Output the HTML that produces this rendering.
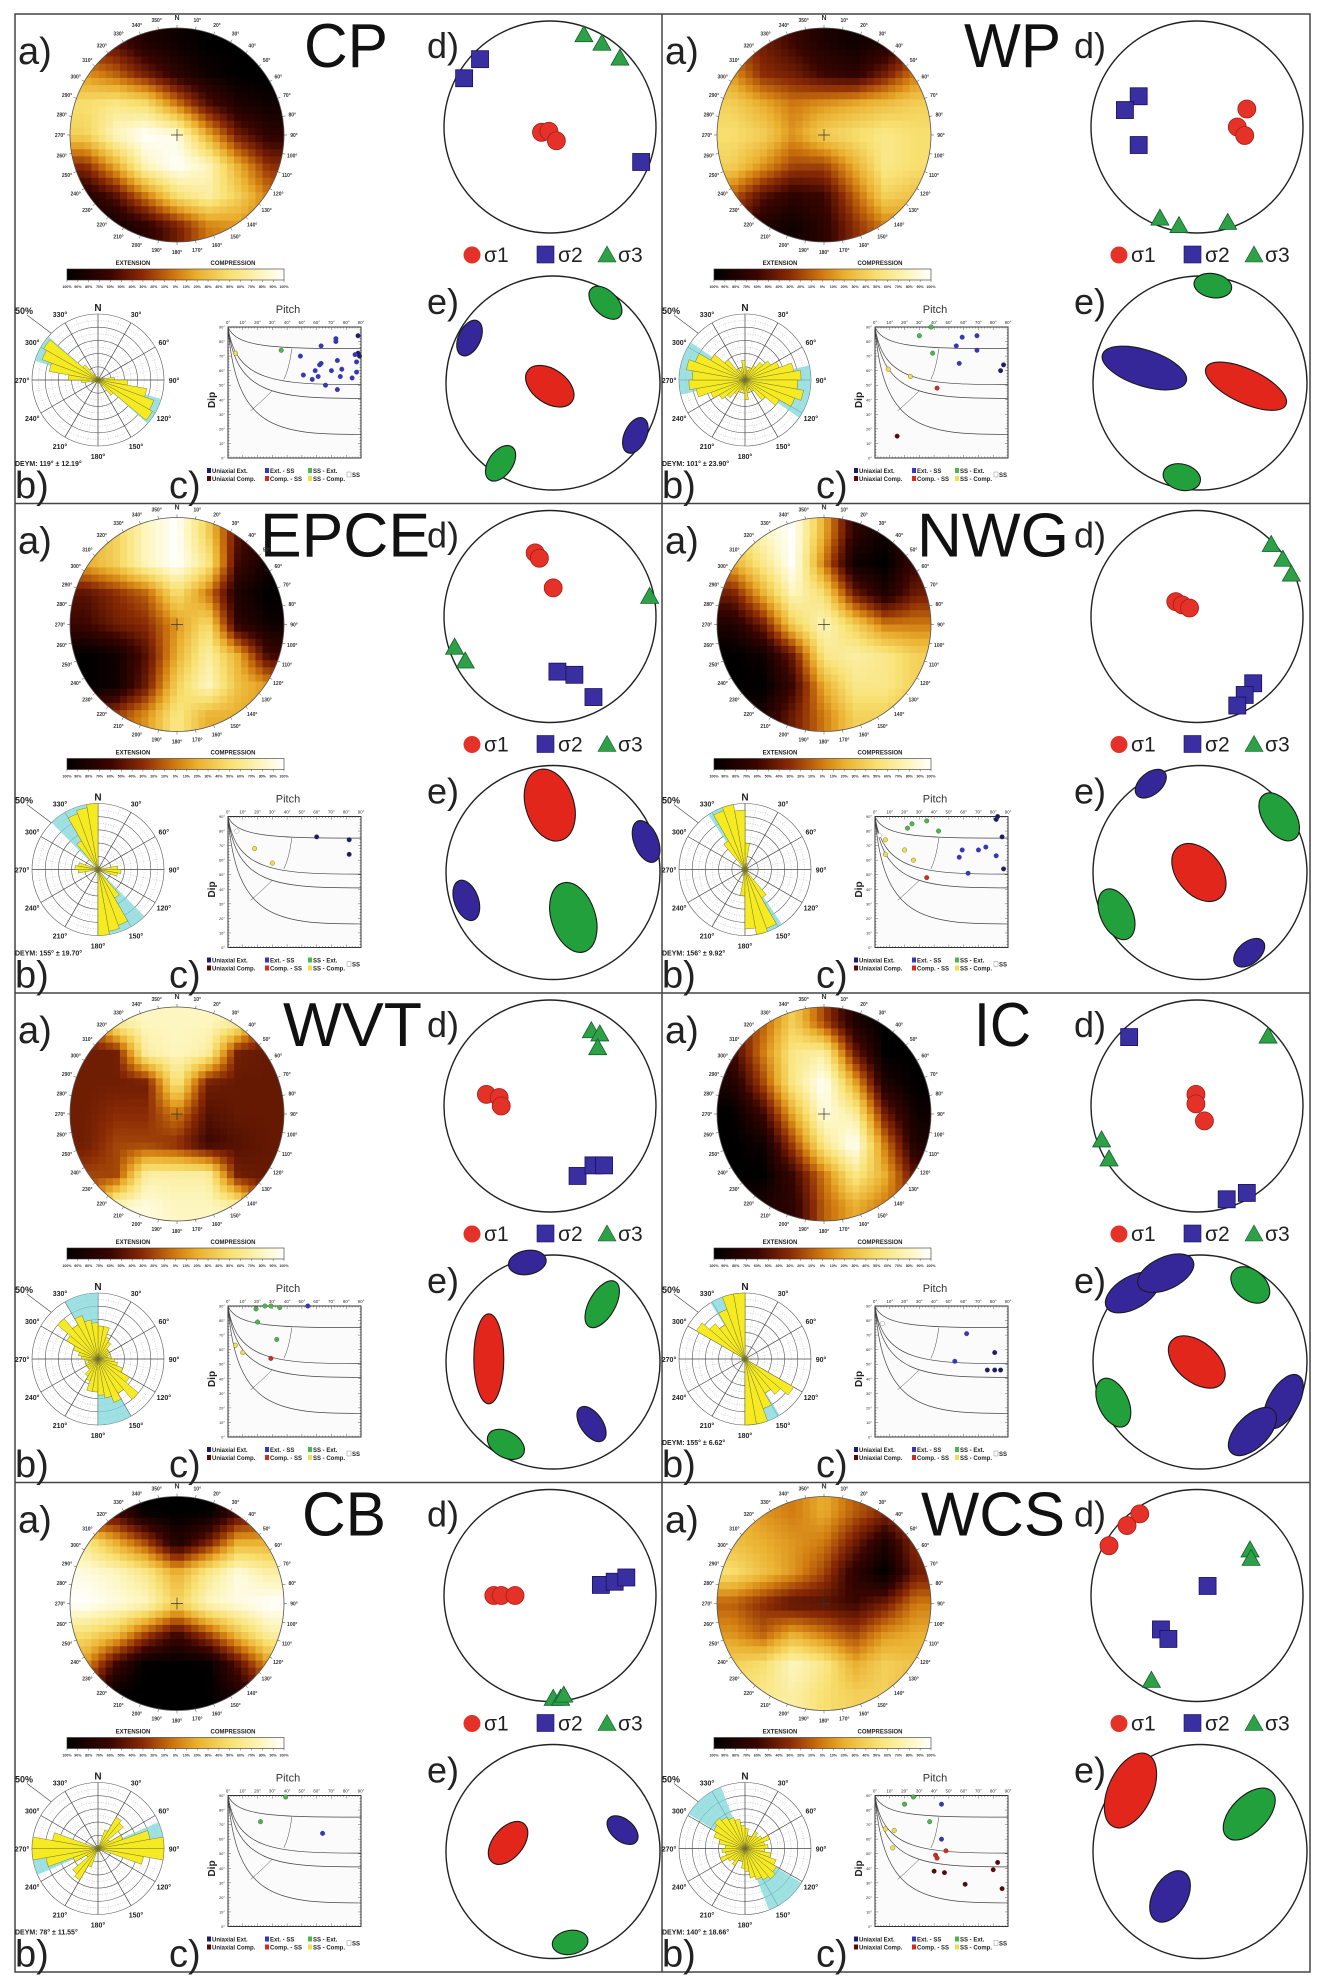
<!DOCTYPE html>
<html><head><meta charset="utf-8">
<style>
body{margin:0;background:#fff}
svg{display:block}
text{font-family:"Liberation Sans",sans-serif}
</style></head>
<body>
<svg id="fig" width="1325" height="1986" viewBox="0 0 1325 1986">
<defs>
<linearGradient id="cbar" x1="0" x2="1" y1="0" y2="0">
<stop offset="0" stop-color="#000000"/><stop offset="0.2" stop-color="#3a0500"/><stop offset="0.35" stop-color="#8a2a05"/><stop offset="0.5" stop-color="#d07a10"/><stop offset="0.6" stop-color="#eab030"/><stop offset="0.75" stop-color="#f8e070"/><stop offset="0.9" stop-color="#fdf6c0"/><stop offset="1" stop-color="#ffffff"/>
</linearGradient>
</defs>
</svg>
<script>
// ---------- data ----------
const panelNames=['CP','WP','EPCE','NWG','WVT','IC','CB','WCS'];
const labelX=[289,302,245,255,268,312,287,259];
const labelW=[84,97,170,152,139,57,84,144];
const heatGrids=[
[[.3,.25,.1,.05,0,0,0],[.55,.45,.3,.15,.05,0,0],[.75,.8,.75,.5,.25,.1,.05],[.7,.9,1,.95,.6,.3,.15],[.35,.6,.9,1,.9,.6,.35],[.1,.25,.5,.75,.85,.7,.5],[0,.05,.15,.3,.5,.55,.5]],
[[.4,.3,.2,.1,.05,.1,.3],[.55,.35,.3,.2,.15,.3,.5],[.7,.6,.5,.55,.6,.65,.7],[.75,.7,.55,.7,.75,.8,.75],[.7,.55,.4,.4,.6,.8,.75],[.45,.25,.15,.2,.45,.7,.65],[.3,.1,.05,.15,.35,.5,.5]],
[[.6,.7,.9,1,.7,.25,.15],[.6,.7,.9,1,.8,.2,.05],[.25,.35,.45,.75,.5,.1,0],[.2,.3,.35,.55,.75,.15,.05],[0,.05,.25,.6,.85,.6,.2],[0,.05,.3,.7,.9,.65,.55],[.3,.4,.55,.8,.6,.6,.55]],
[[.7,.9,1,.6,.15,.05,.2],[.6,.8,1,.5,.05,0,.2],[.3,.6,.9,.75,.3,.1,.3],[.1,.3,.7,.9,.7,.5,.5],[0,.05,.3,.8,.85,.8,.7],[0,0,.2,.6,.8,.8,.7],[.1,.1,.3,.5,.7,.7,.6]],
[[.3,.85,.9,.9,.9,.85,.3],[.3,.3,.85,.9,.85,.3,.28],[.3,.3,.3,.8,.3,.28,.28],[.3,.35,.35,.5,.25,.28,.28],[.3,.4,.4,.35,.2,.25,.28],[.4,.4,.85,.85,.85,.3,.28],[.4,.9,.95,.9,.9,.85,.3]],
[[.3,.45,.7,.4,.1,0,0],[.2,.5,.8,.85,.3,0,0],[.1,.4,.8,1,.6,.1,0],[0,.2,.6,.95,.85,.3,.05],[0,.05,.4,.8,1,.5,.1],[0,0,.2,.5,.8,.6,.25],[.05,.1,.15,.45,.6,.5,.4]],
[[.2,.2,0,0,0,.2,.3],[.8,.6,.4,.1,.3,.6,.6],[.95,.9,.8,.6,.8,.95,.85],[1,.95,.9,.7,.9,.95,1],[.75,.65,.4,.2,.4,.65,.85],[.55,.2,0,0,0,.25,.55],[.3,0,0,0,0,.1,.3]],
[[.6,.55,.5,.6,.45,.35,.45],[.65,.6,.55,.5,.3,.1,.35],[.75,.65,.55,.4,.15,0,.3],[.45,.35,.25,.25,.2,.3,.5],[.55,.45,.6,.5,.4,.55,.6],[.7,.75,.9,.8,.6,.7,.65],[.75,.8,.85,.75,.7,.7,.6]]
];
const roseBins=[
[.05,.03,.03,.05,.05,.05,.08,.1,.25,.45,.75,.9,.95,.3,.1,.05,.05,.05],
[.2,.15,.2,.25,.35,.45,.55,.75,.85,.8,.9,.8,.6,.4,.2,.15,.2,.3],
[.05,.05,.05,.05,.05,.05,.05,.05,.3,.35,.3,.05,.05,.05,.5,.9,.95,1.0],
[.4,.1,.05,.05,.05,.05,.05,.05,.05,.05,.05,.05,.05,.05,.5,.95,1.0,.9],
[.5,.5,.35,.3,.2,.2,.2,.15,.2,.25,.3,.4,.55,.8,.6,.7,.6,.55],
[.05,.05,.05,.05,.05,.05,.05,.05,.05,.05,.05,.05,.85,.7,.6,.8,1.0,1.0],
[.05,.05,.3,.55,.5,.2,.4,.8,1.0,1.0,.7,.05,.05,.05,.05,.05,.05,.05],
[.3,.2,.2,.3,.25,.3,.4,.3,.35,.3,.4,.5,.55,.6,.55,.5,.45,.35]
];
const deymMean=[119,101,155,156,165,155,78,140];
const deymErr=[12.19,23.90,19.70,9.92,15,6.62,11.55,18.66];
const deymText=['DEYM: 119° ± 12.19°','DEYM: 101° ± 23.90°','DEYM: 155° ± 19.70°','DEYM: 156° ± 9.92°','','DEYM: 155° ± 6.62°','DEYM: 78° ± 11.55°','DEYM: 140° ± 18.66°'];
const sigma1X=[[-.08,-.01,.06],[.47,.38,.45],[-.14,-.10,.03],[-.20,-.14,-.07],[-.60,-.48,-.46],[-.01,-.01,.07],[-.53,-.46,-.33],[-.54,-.66,-.83]];
const sigma1Y=[[.05,.04,.13],[-.17,0,.08],[-.60,-.55,-.27],[-.14,-.11,-.08],[-.11,-.08,0],[-.11,-.02,.14],[0,0,0],[-.77,-.66,-.47]];
const sigma2X=[[-.66,-.81,.86],[-.55,-.68,-.55],[.07,.23,.41],[.53,.45,.38],[.26,.41,.51],[-.64,.28,.47],[.48,.61,.72],[.10,-.34,-.27]];
const sigma2Y=[[-.64,-.46,.33],[-.29,-.16,.17],[.52,.55,.76],[.63,.74,.84],[.66,.56,.56],[-.65,.88,.82],[-.10,-.13,-.17],[-.09,.32,.41]];
const sigma3X=[[.32,.49,.66],[-.35,-.17,.29],[.94,-.90,-.80],[.70,.81,.89],[.39,.47,.45],[.67,-.90,-.83],[.03,.10,.13],[.50,.51,-.43]];
const sigma3Y=[[-.87,-.79,-.65],[.86,.93,.90],[-.19,.29,.42],[-.68,-.54,-.40],[-.71,-.68,-.55],[-.66,.32,.50],[.97,.97,.94],[-.43,-.35,.80]];
// ellipses: [x, y, rx, ry, angle, sigma]
const ellipses=[
[[.49,-.75,20,12,45,3],[-.78,-.42,19,11,-65,2],[-.03,.03,27,17,35,1],[.77,.49,19,11,-65,2],[-.49,.75,20,12,-55,3]],
[[.12,-.91,19,12,10,3],[-.52,-.14,44,18,18,2],[.43,.03,44,17,25,1],[-.17,.88,19,13,15,3]],
[[-.03,-.63,37,24,72,1],[.87,-.29,22,12,68,2],[-.81,.26,21,12,70,2],[.19,.42,36,22,72,3]],
[[-.46,-.83,18,11,-40,2],[.74,-.52,27,16,55,3],[-.01,0,33,22,50,1],[-.78,.39,27,16,65,3],[.46,.75,18,11,-40,2]],
[[-.24,-.93,19,12,-10,2],[.46,-.54,26,13,-60,3],[-.60,-.03,45,15,90,1],[.36,.58,20,11,55,2],[-.44,.77,20,13,30,3]],
[[-.63,-.65,30,16,-30,2],[-.32,-.83,30,16,-25,2],[.47,-.72,22,15,40,3],[-.03,0,33,20,40,1],[-.81,.38,26,15,65,3],[.78,.37,30,15,-60,2],[.49,.65,30,16,-45,2]],
[[-.42,-.08,25,15,-50,1],[.65,-.20,18,11,40,2],[.16,.85,18,12,-10,3]],
[[-.65,-.57,40,22,-65,1],[.46,-.35,32,18,-45,3],[-.28,.42,28,17,-60,2]]
];
const pitchVals=[
[88,73,73,63,88,86,89,49,74,87,63,62,59,70,77,51,61,57,76,87,84,66,74,36,5],
[30,38,39,59,69,55,69,57,87,85,9,24,42,15],
[60,82,82,18,30,6],
[22,25,35,43,83,82,86,59,75,70,57,82,63,87,7,7,20,26,35,3],
[54,25,29,19,35,20,33,5,10,29],
[62,81,54,76,81,85,5],
[39,22,64],
[26,20,37,45,45,7,13,12,41,48,42,40,47,61,80,83,86]
];
const dipVals=[
[84,82,80,77,72,71,70,70,67,66,65,64,60,60,61,57,56,54,56,59,55,50,47,74,72],
[84,90,72,83,84,77,74,65,64,60,61,56,48,15],
[76,74,64,68,58,80],
[82,85,87,80,90,88,76,67,69,67,62,63,51,54,74,64,67,60,48,77],
[90,90,90,88,89,79,67,63,58,54],
[71,58,52,46,46,46,78],
[89,72,64],
[89,84,72,84,60,67,66,54,49,52,47,38,37,29,39,44,26]
];
const pointKinds=["UBBBUBUBBBBBBBBBBBBBBBBGY","GGGBBBBBUUYYRD","UUUYYW","GGGGUUUBBBBBBUYYYYRW","BGGGGGGYYR","BUBUUUW","GGB","GGGBBYYYRRRDDDDDD"];
const roseLabels=['N','30°','60°','90°','120°','150°','180°','210°','240°','270°','300°','330°'];
const pitchTicks=['0°','10°','20°','30°','40°','50°','60°','70°','80°','90°'];
const cbarTicks=['100%','90%','80%','70%','60%','50%','40%','30%','20%','10%','0%','10%','20%','30%','40%','50%','60%','70%','80%','90%','100%'];

// ---------- helpers ----------
const NS='http://www.w3.org/2000/svg';
const svg=document.getElementById('fig');
function mk(tag,attrs,parent){const e=document.createElementNS(NS,tag);for(const k in attrs)e.setAttribute(k,attrs[k]);parent.appendChild(e);return e;}
function txt(s,attrs,parent){const e=mk('text',attrs,parent);e.textContent=s;return e;}
const cmapStops=[[0,[0,0,0]],[.2,[58,5,0]],[.35,[138,42,5]],[.5,[208,122,16]],[.6,[234,176,48]],[.75,[248,224,112]],[.9,[253,246,192]],[1,[255,255,255]]];
function cmap(v){v=Math.max(0,Math.min(1,v));for(let k=1;k<cmapStops.length;k++){const a=cmapStops[k-1],b=cmapStops[k];if(v<=b[0]){const t=(v-a[0])/(b[0]-a[0]);const c=a[1].map((x,j)=>Math.round(x+(b[1][j]-x)*t));return `rgb(${c[0]},${c[1]},${c[2]})`;}}return '#fff';}
function bilinear(g,gx,gy){const n=g.length;gx=Math.max(0,Math.min(n-1,gx));gy=Math.max(0,Math.min(n-1,gy));const x0=Math.min(n-2,Math.floor(gx)),y0=Math.min(n-2,Math.floor(gy));const tx=gx-x0,ty=gy-y0;return g[y0][x0]*(1-tx)*(1-ty)+g[y0][x0+1]*tx*(1-ty)+g[y0+1][x0]*(1-tx)*ty+g[y0+1][x0+1]*tx*ty;}
function polar(cx,cy,r,deg){const a=deg*Math.PI/180;return [cx+r*Math.sin(a),cy-r*Math.cos(a)];}
const symFill={1:'#e53228',2:'#3a2fa0',3:'#2ea048'};
const symStroke={1:'#a81c14',2:'#1a1060',3:'#10602a'};
const ellFill={1:'#e2261c',2:'#35279a',3:'#21a03c'};
const kindColor={U:'#1c1c6e',B:'#3535c8',G:'#4cb84c',Y:'#efe04a',R:'#d42a20',D:'#5a0808',W:'#ffffff'};

// ---------- frame ----------
const frame=mk('rect',{x:15,y:14,width:1295,height:1958,fill:'none',stroke:'#444','stroke-width':1.5},svg);


const vdiv=mk('line',{x1:662,y1:14,x2:662,y2:1972,stroke:'#444','stroke-width':1.5},svg);


[503.5,993,1482.5].forEach(yy=>{
  const l=mk('line',{x1:15,y1:yy,x2:1310,y2:yy,stroke:'#444','stroke-width':1.5},svg);
  
  
});

// ---------- panels ----------
function drawPanel(i){
  const name=panelNames[i];
  const ox=[15,662][i%2], oy=14+Math.floor(i/2)*489.5;
  const g=mk('g',{transform:`translate(${ox},${oy})`},svg);
  
  

  const la=txt('a)',{x:3,y:50,'font-size':38,fill:'#222'},g);
  
  
  const big=txt(name,{x:labelX[i],y:53,'font-size':62,fill:'#111',textLength:labelW[i],lengthAdjust:'spacingAndGlyphs'},g);
  
  

  // heatmap
  const cx=162,cy=121,R=107,M=30,cell=2*R/M;
  const clip=mk('clipPath',{id:'clip'+i},g);
  mk('circle',{cx:cx,cy:cy,r:R},clip);
  const hg=mk('g',{'clip-path':`url(#clip${i})`},g);
  
  
  const grid=heatGrids[i],N=grid.length;
  for(let v=0;v<M;v++)for(let u=0;u<M;u++){
    const x=cx-R+u*cell,y=cy-R+v*cell;
    const dx=x+cell/2-cx,dy=y+cell/2-cy;
    if(Math.sqrt(dx*dx+dy*dy)>R+cell)continue;
    const val=bilinear(grid,(u+0.5)/M*N-0.5,(v+0.5)/M*N-0.5);
    const r=mk('rect',{x:x.toFixed(2),y:y.toFixed(2),width:(cell+0.4).toFixed(2),height:(cell+0.4).toFixed(2),fill:cmap(val)},hg);
    
    
  }
  const hc=mk('circle',{cx:cx,cy:cy,r:R,fill:'none',stroke:'#555','stroke-width':0.8},g);
  
  
  mk('path',{d:`M${cx-6},${cy}H${cx+6}M${cx},${cy-6}V${cy+6}`,stroke:'#333','stroke-width':0.7},g);
  for(let d=0;d<360;d+=10){
    const [tx1,ty1]=polar(cx,cy,R,d),[tx2,ty2]=polar(cx,cy,R+3,d),[lx,ly]=polar(cx,cy,R+10,d);
    mk('line',{x1:tx1,y1:ty1,x2:tx2,y2:ty2,stroke:'#444','stroke-width':0.5},g);
    const t=txt(d===0?'N':d+'°',{x:lx,y:ly+2,'font-size':d===0?7:5,'text-anchor':'middle',fill:'#333','font-weight':'bold'},g);
    
    
  }
  // colorbar
  const cb=mk('rect',{x:52,y:255,width:217,height:11,fill:'url(#cbar)',stroke:'#333','stroke-width':0.6},g);
  
  
  const ext=txt('EXTENSION',{x:118,y:251,'font-size':6,'font-weight':'bold','text-anchor':'middle',fill:'#222'},g);
  
  
  const cmp=txt('COMPRESSION',{x:218,y:251,'font-size':6,'font-weight':'bold','text-anchor':'middle',fill:'#222'},g);
  
  
  cbarTicks.forEach((s,k)=>{
    const x=52+k*217/20;
    mk('line',{x1:x,y1:266,x2:x,y2:268,stroke:'#333','stroke-width':0.4},g);
    const t=txt(s,{x:x,y:274,'font-size':3.6,'text-anchor':'middle',fill:'#333','font-weight':'bold'},g);
    
    
  });

  // rose diagram
  const rx=83,ry=366,RR=66;
  const rg=mk('g',{},g);
  
  
  for(let k=1;k<=10;k++){
    mk('circle',{cx:rx,cy:ry,r:RR*k/10,fill:'none',stroke:k%2?'#aaa':'#555','stroke-width':k%2?0.5:0.6,'stroke-dasharray':k%2?'1,1.5':'none'},rg);
  }
  for(let d=0;d<360;d+=10){
    const [x2,y2]=polar(rx,ry,RR,d);
    mk('line',{x1:rx,y1:ry,x2:x2,y2:y2,stroke:d%30?'#bbb':'#444','stroke-width':d%30?0.4:0.7,'stroke-dasharray':d%30?'1,1.5':'none'},rg);
  }
  [0,180].forEach(off=>{
    const a1=deymMean[i]-deymErr[i]+off,a2=deymMean[i]+deymErr[i]+off;
    const [x1,y1]=polar(rx,ry,RR,a1),[x2,y2]=polar(rx,ry,RR,a2);
    const s=mk('path',{d:`M${rx},${ry}L${x1},${y1}A${RR},${RR} 0 0 1 ${x2},${y2}Z`,fill:'#7fd6da','fill-opacity':0.75},rg);
    
    
  });
  roseBins[i].forEach((len,b)=>{
    [0,180].forEach(off=>{
      const a1=b*10+off,a2=a1+10,r=len*RR;
      const [x1,y1]=polar(rx,ry,r,a1),[x2,y2]=polar(rx,ry,r,a2);
      const p=mk('path',{d:`M${rx},${ry}L${x1},${y1}A${r},${r} 0 0 1 ${x2},${y2}Z`,fill:'#f6ea22',stroke:'#6a6a30','stroke-width':0.4},rg);
      
      
    });
  });
  roseLabels.forEach((s,k)=>{
    const [lx,ly]=polar(rx,ry,RR+(k===0?6:10),k*30);
    const t=txt(s,{x:lx,y:ly+3,'font-size':k===0?10:7,'font-weight':'bold','text-anchor':'middle',fill:'#222'},rg);
    
    
  });
  const p50=txt('50%',{x:0,y:300,'font-size':9,'font-weight':'bold',fill:'#222'},rg);
  
  
  const [ex,ey]=polar(rx,ry,RR,315);
  mk('line',{x1:12,y1:301,x2:ex,y2:ey,stroke:'#444','stroke-width':0.6},rg);
  const dy=txt(deymText[i],{x:0,y:452,'font-size':7,'font-weight':'bold',fill:'#222'},rg);
  
  

  // pitch plot
  const bx=213,by=313,bw=133,bh=131;
  const pg=mk('g',{},g);
  
  
  mk('rect',{x:bx,y:by,width:bw,height:bh,fill:'#fbfbfb',stroke:'#333','stroke-width':1},pg);
  for(let k=0;k<=45;k++){
    const x=bx+k*bw/45,y=by+k*bh/45,l=k%5?1.5:3;
    mk('line',{x1:x,y1:by,x2:x,y2:by+l,stroke:'#333','stroke-width':0.4},pg);
    mk('line',{x1:x,y1:by+bh,x2:x,y2:by+bh-l,stroke:'#333','stroke-width':0.4},pg);
    mk('line',{x1:bx,y1:y,x2:bx+l,y2:y,stroke:'#333','stroke-width':0.4},pg);
    mk('line',{x1:bx+bw,y1:y,x2:bx+bw-l,y2:y,stroke:'#333','stroke-width':0.4},pg);
  }
  pitchTicks.forEach((s,k)=>{
    const t=txt(s,{x:bx+k*bw/9,y:by-3,'font-size':4.5,'text-anchor':'middle',fill:'#333'},pg);
    
    
    const t2=txt(pitchTicks[9-k],{x:bx-3,y:by+k*bh/9+1.5,'font-size':4,'text-anchor':'end',fill:'#333'},pg);
    
    
  });
  [0.165,0.44,0.545,0.82].forEach(f=>{
    const c=mk('path',{d:`M${bx},${by}C${bx+bw*0.06},${by+bh*f*0.95} ${bx+bw*0.35},${by+bh*f} ${bx+bw},${by+bh*f}`,fill:'none',stroke:'#444','stroke-width':0.7},pg);
    
    
  });
  mk('path',{d:`M${bx+bw*0.48},${by+bh*0.165}Q${bx+bw*0.46},${by+bh*0.32} ${bx+bw*0.42},${by+bh*0.4}`,fill:'none',stroke:'#444','stroke-width':0.5},pg);
  mk('path',{d:`M${bx+bw*0.33},${by+bh*0.49}Q${bx+bw*0.24},${by+bh*0.58} ${bx+bw*0.17},${by+bh*0.64}`,fill:'none',stroke:'#444','stroke-width':0.5},pg);
  const pv=pitchVals[i],dv=dipVals[i],kv=pointKinds[i];
  pv.forEach((p,k)=>{
    const c=mk('circle',{cx:bx+p/90*bw,cy:by+(90-dv[k])/90*bh,r:2.3,fill:kindColor[kv[k]],stroke:kv[k]==='W'?'#666':'#333','stroke-width':0.3},pg);
    
    
  });
  const pt=txt('Pitch',{x:273,y:299,'font-size':11,'text-anchor':'middle',fill:'#333'},pg);
  
  
  const dt=txt('Dip',{x:0,y:0,'font-size':10,'font-weight':'bold','text-anchor':'middle',fill:'#222',transform:'translate(200,386) rotate(-90)'},pg);
  
  
  const legItems=[['Uniaxial Ext.','U',192,459],['Ext. - SS','B',250,459],['SS - Ext.','G',293,459],['Uniaxial Comp.','D',192,467],['Comp. - SS','R',250,467],['SS - Comp.','Y',293,467],['SS','W',332,463]];
  legItems.forEach(it=>{
    mk('rect',{x:it[2],y:it[3]-5,width:4,height:5,fill:kindColor[it[1]],stroke:it[1]==='W'?'#777':'none','stroke-width':0.4},pg);
    const t=txt(it[0],{x:it[2]+5,y:it[3],'font-size':6,fill:'#222','font-weight':'bold'},pg);
    
    
  });

  const lb=txt('b)',{x:0,y:484,'font-size':38,fill:'#222'},g);
  
  
  const lc=txt('c)',{x:154,y:484,'font-size':38,fill:'#222'},g);
  
  

  // d) stereonet
  const ld=txt('d)',{x:412,y:44,'font-size':36,fill:'#222'},g);
  
  
  const dcx=535,dcy=113,dr=106;
  const dc=mk('circle',{cx:dcx,cy:dcy,r:dr,fill:'none',stroke:'#222','stroke-width':1.4},g);
  
  
  sigma3X[i].forEach((x,k)=>{
    const px=dcx+x*dr,py=dcy+sigma3Y[i][k]*dr;
    const t=mk('path',{d:`M${px},${py-9}L${px+9},${py+7}L${px-9},${py+7}Z`,fill:symFill[3],stroke:symStroke[3],'stroke-width':0.8},g);
    
    
  });
  sigma2X[i].forEach((x,k)=>{
    const px=dcx+x*dr,py=dcy+sigma2Y[i][k]*dr;
    const s=mk('rect',{x:px-8.5,y:py-8.5,width:17,height:17,fill:symFill[2],stroke:symStroke[2],'stroke-width':0.8},g);
    
    
  });
  sigma1X[i].forEach((x,k)=>{
    const c=mk('circle',{cx:dcx+x*dr,cy:dcy+sigma1Y[i][k]*dr,r:9,fill:symFill[1],stroke:symStroke[1],'stroke-width':0.8},g);
    
    
  });
  const lg=mk('g',{},g);
  
  
  mk('circle',{cx:457,cy:241,r:8.5,fill:symFill[1]},lg);
  txt('σ1',{x:469,y:248,'font-size':21,fill:'#222'},lg);
  mk('rect',{x:522,y:232,width:17,height:17,fill:symFill[2],stroke:symStroke[2],'stroke-width':0.6},lg);
  txt('σ2',{x:543,y:248,'font-size':21,fill:'#222'},lg);
  mk('path',{d:'M592,232L601,248L583,248Z',fill:symFill[3],stroke:symStroke[3],'stroke-width':0.6},lg);
  txt('σ3',{x:603,y:248,'font-size':21,fill:'#222'},lg);

  // e) confidence ellipses
  const le=txt('e)',{x:412,y:300,'font-size':36,fill:'#222'},g);
  
  
  const ecx=538,ecy=369,er=107;
  const ec=mk('circle',{cx:ecx,cy:ecy,r:er,fill:'none',stroke:'#222','stroke-width':1.4},g);
  
  
  ellipses[i].forEach(e=>{
    const px=ecx+e[0]*er,py=ecy+e[1]*er;
    const el=mk('ellipse',{cx:px,cy:py,rx:e[2],ry:e[3],transform:`rotate(${e[4]},${px},${py})`,fill:ellFill[e[5]],stroke:'#1a1a1a','stroke-width':1.1},g);
    
    
  });
}
for(let i=0;i<panelNames.length;i++)drawPanel(i);
</script>
</body></html>
